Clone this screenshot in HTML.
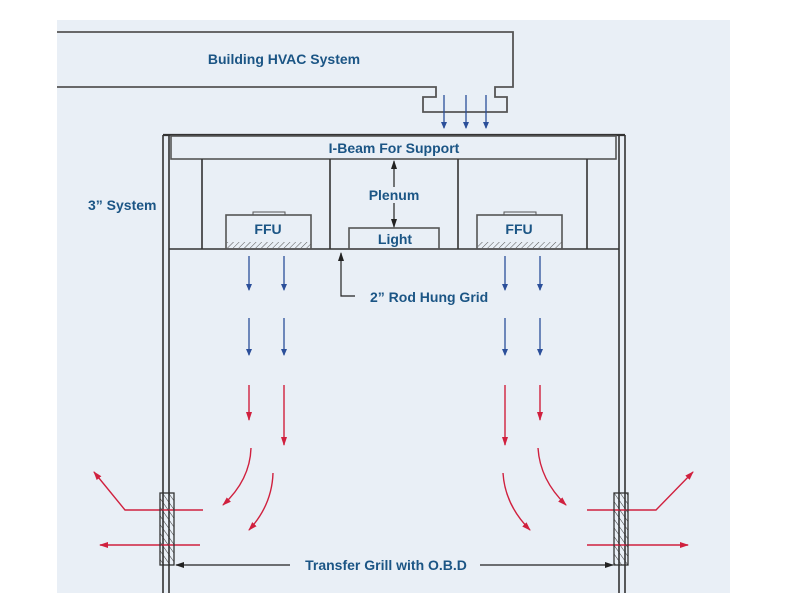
<!DOCTYPE html>
<html><head><style>
body{margin:0;background:#fff;}
svg{display:block;}
text{font-family:"Liberation Sans",sans-serif;font-weight:bold;fill:#1b5585;}
</style></head><body>
<svg width="792" height="612" viewBox="0 0 792 612" xmlns="http://www.w3.org/2000/svg">
<defs>
<marker id="bh" markerWidth="8" markerHeight="8" refX="6" refY="3" orient="auto" markerUnits="userSpaceOnUse"><path d="M0,0 L7,3 L0,6 Z" fill="#2b4f9a"/></marker>
<marker id="rh" markerWidth="10" markerHeight="8" refX="8" refY="3" orient="auto" markerUnits="userSpaceOnUse"><path d="M0,0 L9,3 L0,6 Z" fill="#d0203e"/></marker>
<marker id="kh" markerWidth="10" markerHeight="8" refX="8" refY="3" orient="auto" markerUnits="userSpaceOnUse"><path d="M0,0 L9,3 L0,6 Z" fill="#222"/></marker>
<pattern id="hatch" width="5" height="5" patternUnits="userSpaceOnUse" patternTransform="rotate(-35)"><line x1="0" y1="0" x2="0" y2="5" stroke="#333" stroke-width="1"/></pattern>
<pattern id="hatch2" width="4" height="4" patternUnits="userSpaceOnUse" patternTransform="rotate(45)"><line x1="0" y1="0" x2="0" y2="4" stroke="#555" stroke-width="1"/></pattern>
</defs>
<rect x="57" y="20" width="673" height="573" fill="#e9eff6"/>
<g fill="none" stroke="#555" stroke-width="1.8">
<path d="M57,32 H513 V87 H495 V97 H507 V112 H423 V97 H436 V87 H57"/>
</g>
<g stroke="#2b4f9a" stroke-width="1.3" marker-end="url(#bh)">
<line x1="444" y1="95" x2="444" y2="128"/><line x1="466" y1="95" x2="466" y2="128"/><line x1="486" y1="95" x2="486" y2="128"/>
</g>
<g fill="none" stroke="#333" stroke-width="1.6">
<line x1="163" y1="135" x2="163" y2="593"/><line x1="169" y1="135" x2="169" y2="593"/>
<line x1="619" y1="135" x2="619" y2="593"/><line x1="625" y1="135" x2="625" y2="593"/>
<line x1="163" y1="135" x2="625" y2="135" stroke-width="2.2"/>
<rect x="171" y="136" width="445" height="23" stroke="#555"/>
<line x1="202" y1="159" x2="202" y2="249"/><line x1="330" y1="159" x2="330" y2="249"/>
<line x1="458" y1="159" x2="458" y2="249"/><line x1="587" y1="159" x2="587" y2="249"/>
<line x1="169" y1="249" x2="619" y2="249"/>
<rect x="226" y="215" width="85" height="34" stroke="#555"/>
<rect x="477" y="215" width="85" height="34" stroke="#555"/>
<rect x="349" y="228" width="90" height="21" stroke="#555"/>
<rect x="253" y="212" width="32" height="3" stroke="#555" stroke-width="1"/>
<rect x="504" y="212" width="32" height="3" stroke="#555" stroke-width="1"/>
</g>
<rect x="227" y="242" width="84" height="6" fill="url(#hatch2)"/>
<rect x="478" y="242" width="84" height="6" fill="url(#hatch2)"/>
<g stroke="#222" stroke-width="1.2" marker-end="url(#kh)">
<line x1="394" y1="187" x2="394" y2="161"/>
<line x1="394" y1="203" x2="394" y2="227"/>
</g>
<path d="M355,296 H341 V253" fill="none" stroke="#222" stroke-width="1.2" marker-end="url(#kh)"/>
<g stroke="#2b4f9a" stroke-width="1.3" marker-end="url(#bh)">
<line x1="249" y1="256" x2="249" y2="290"/><line x1="284" y1="256" x2="284" y2="290"/>
<line x1="505" y1="256" x2="505" y2="290"/><line x1="540" y1="256" x2="540" y2="290"/>
<line x1="249" y1="318" x2="249" y2="355"/><line x1="284" y1="318" x2="284" y2="355"/>
<line x1="505" y1="318" x2="505" y2="355"/><line x1="540" y1="318" x2="540" y2="355"/>
</g>
<g stroke="#d0203e" stroke-width="1.4" fill="none" marker-end="url(#rh)">
<line x1="249" y1="385" x2="249" y2="420"/><line x1="284" y1="385" x2="284" y2="445"/>
<line x1="505" y1="385" x2="505" y2="445"/><line x1="540" y1="385" x2="540" y2="420"/>
<path d="M251,448 Q250,480 223,505"/>
<path d="M273,473 Q272,505 249,530"/>
<path d="M538,448 Q540,480 566,505"/>
<path d="M503,473 Q505,505 530,530"/>
<path d="M203,510 H125 L94,472"/>
<path d="M200,545 H100"/>
<path d="M587,510 H656 L693,472"/>
<path d="M587,545 H688"/>
</g>
<rect x="160" y="493" width="14" height="72" fill="url(#hatch)" stroke="#333" stroke-width="1.3"/>
<rect x="614" y="493" width="14" height="72" fill="url(#hatch)" stroke="#333" stroke-width="1.3"/>
<g stroke="#222" stroke-width="1.2" marker-end="url(#kh)">
<line x1="290" y1="565" x2="176" y2="565"/>
<line x1="480" y1="565" x2="613" y2="565"/>
</g>
<text x="284" y="64" font-size="14" text-anchor="middle">Building HVAC System</text>
<text x="394" y="153" font-size="14" text-anchor="middle">I-Beam For Support</text>
<text x="394" y="200" font-size="14" text-anchor="middle">Plenum</text>
<text x="268" y="234" font-size="14" text-anchor="middle">FFU</text>
<text x="519" y="234" font-size="14" text-anchor="middle">FFU</text>
<text x="395" y="244" font-size="14" text-anchor="middle">Light</text>
<text x="370" y="302" font-size="14">2” Rod Hung Grid</text>
<text x="88" y="210" font-size="14">3” System</text>
<text x="386" y="570" font-size="14" text-anchor="middle">Transfer Grill  with O.B.D</text>
</svg>
</body></html>
